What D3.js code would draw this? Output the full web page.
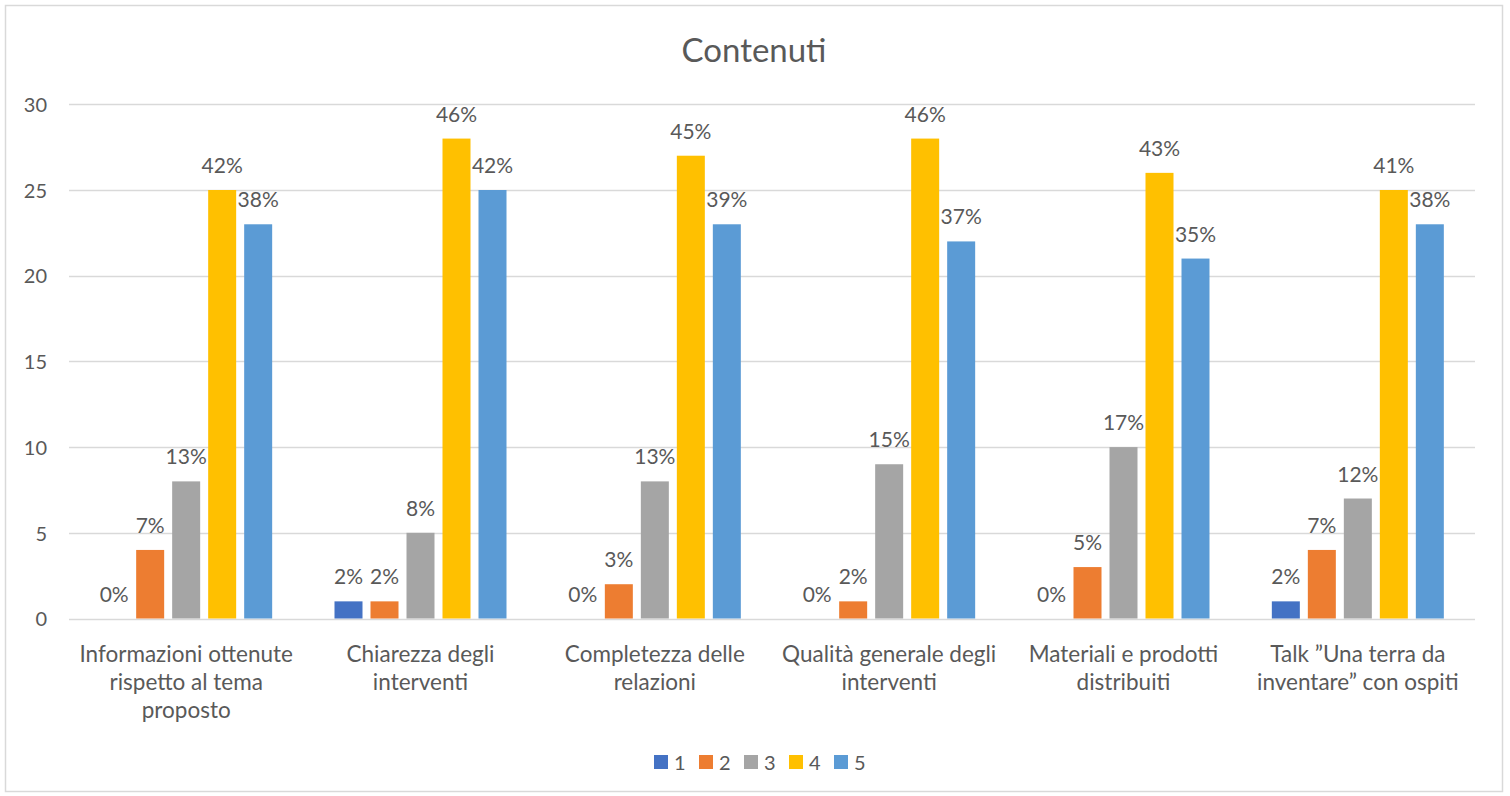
<!DOCTYPE html>
<html><head><meta charset="utf-8">
<script src="https://cdn.jsdelivr.net/npm/d3@7"></script>
<style>
html,body{margin:0;padding:0;background:#fff;}
text{font-family:Lato,"Open Sans",sans-serif;fill:#595959;}
</style></head>
<body>
<svg id="chart" width="1510" height="796"></svg>
<script>
const categories = [
  ["Informazioni ottenute","rispetto al tema","proposto"],
  ["Chiarezza degli","interventi"],
  ["Completezza delle","relazioni"],
  ["Qualità generale degli","interventi"],
  ["Materiali e prodotti","distribuiti"],
  ["Talk \u201DUna terra da","inventare\u201D con ospiti"]
];
const seriesNames = ["1","2","3","4","5"];
const seriesColors = ["#4472C4","#ED7D31","#A5A5A5","#FFC000","#5B9BD5"];
const s1 = [0,1,0,0,0,1];
const s2 = [4,1,2,1,3,4];
const s3 = [8,5,8,9,10,7];
const s4 = [25,28,27,28,26,25];
const s5 = [23,25,23,22,21,23];
const l1 = ["0%","2%","0%","0%","0%","2%"];
const l2 = ["7%","2%","3%","2%","5%","7%"];
const l3 = ["13%","8%","13%","15%","17%","12%"];
const l4 = ["42%","46%","45%","46%","43%","41%"];
const l5 = ["38%","42%","39%","37%","35%","38%"];
const yTicks = [0,5,10,15,20,25,30];
const title = "Contenuti";

const values = [s1,s2,s3,s4,s5];
const labels = [l1,l2,l3,l4,l5];

const svg = d3.select("#chart");
const m = {left:69, right:1475, top:104.3, bottom:618.5};

svg.append("rect").attr("x",5.5).attr("y",5.5).attr("width",1497).attr("height",786)
  .attr("fill","#fff").attr("stroke","#d9d9d9").attr("stroke-width",1.5);

svg.append("text").attr("x",754).attr("y",62).attr("text-anchor","middle")
  .style("font-size","33px").text(title);

const y = d3.scaleLinear().domain([0,30]).range([m.bottom,m.top]);
const x0 = d3.scaleBand().domain(d3.range(categories.length)).range([m.left,m.right]);
const groupW = x0.bandwidth()*0.734;
const x1 = d3.scaleBand().domain(d3.range(seriesNames.length)).range([0,groupW]).paddingInner(0.2222);

// gridlines
svg.append("g").selectAll("line").data(yTicks).join("line")
  .attr("x1",m.left).attr("x2",m.right)
  .attr("y1",d=>Math.round(y(d))+0.5).attr("y2",d=>Math.round(y(d))+0.5)
  .attr("stroke","#d9d9d9").attr("stroke-width",1.5);

// y labels
const yAxis = d3.axisLeft(y).tickValues(yTicks).tickSize(0).tickPadding(0);
const ya = svg.append("g").attr("transform",`translate(47,0)`).call(yAxis);
ya.select(".domain").remove();
ya.selectAll("text").style("font-size","20px").style("fill","#595959")
  .style("font-family","Lato,'Open Sans',sans-serif").attr("dy","0.36em");

// bars
const groups = svg.append("g").selectAll("g").data(categories).join("g")
  .attr("transform",(d,i)=>`translate(${x0(i)+(x0.bandwidth()-groupW)/2},0)`);
groups.each(function(cat,ci){
  const g = d3.select(this);
  seriesNames.forEach((s,si)=>{
    const v = values[si][ci];
    if(v>0){
      g.append("rect").attr("x",x1(si)).attr("width",x1.bandwidth())
        .attr("y",y(v)).attr("height",y(0)-y(v)).attr("fill",seriesColors[si]);
    }
    g.append("text").attr("x",x1(si)+x1.bandwidth()/2).attr("y",y(v)-17)
      .attr("text-anchor","middle").style("font-size","21px").text(labels[si][ci]);
  });
  const t = g.append("text").attr("x",groupW/2).attr("text-anchor","middle").style("font-size","22.5px");
  cat.forEach((line,li)=>{
    t.append("tspan").attr("x",groupW/2).attr("y",661.5+li*28).text(line);
  });
});

// legend
const leg = svg.append("g").selectAll("g").data(seriesNames).join("g")
  .attr("transform",(d,i)=>`translate(${654+i*45},755)`);
leg.append("rect").attr("width",14).attr("height",14).attr("fill",(d,i)=>seriesColors[i]);
leg.append("text").attr("x",20).attr("y",15).style("font-size","20px").text(d=>d);
</script>
</body></html>
